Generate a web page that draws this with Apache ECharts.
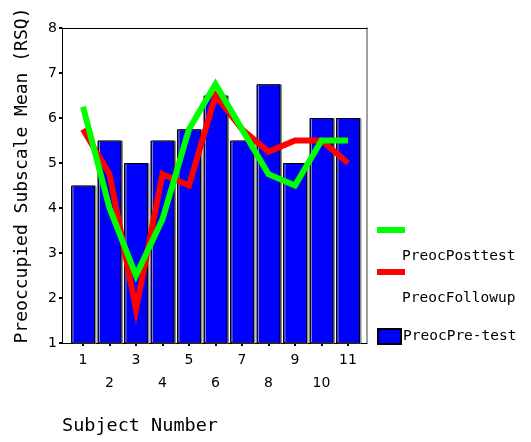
<!DOCTYPE html>
<html>
<head>
<meta charset="utf-8">
<script src="https://cdn.jsdelivr.net/npm/echarts@6/dist/echarts.min.js"></script>
<style>html,body{margin:0;padding:0;background:#fff;}#c{width:531px;height:442px;}</style>
</head>
<body>
<div id="c"></div>
<script>
const categories = ['1','2','3','4','5','6','7','8','9','10','11'];
const preTest = [4.5, 5.5, 5.0, 5.5, 5.75, 6.5, 5.5, 6.75, 5.0, 6.0, 6.0];
const followup = [5.75, 4.75, 1.75, 4.75, 4.5, 6.5, 5.75, 5.25, 5.5, 5.5, 5.0];
const posttest = [6.25, 4.0, 2.5, 3.75, 5.75, 6.75, 5.75, 4.75, 4.5, 5.5, 5.5];
const yMin = 1, yMax = 8, yStep = 1;
const seriesNames = ['PreocPre-test', 'PreocFollowup', 'PreocPosttest'];
const xTitle = 'Subject Number';
const yTitle = 'Preoccupied Subscale Mean (RSQ)';

const MONO = '"DejaVu Sans Mono", monospace';
const SANS = '"DejaVu Sans", sans-serif';

const chart = echarts.init(document.getElementById('c'), null, {renderer: 'canvas'});
chart.setOption({
  backgroundColor: '#fff',
  animation: false,
  title: {
    text: xTitle, left: 62, top: 417, padding: 0,
    textStyle: {fontFamily: MONO, fontSize: 18.5, fontWeight: 'normal', color: '#000'}
  },
  legend: [
    {
      data: [seriesNames[2]], left: 377, top: 191, padding: 0,
      icon: 'rect', itemWidth: 28, itemHeight: 6, itemGap: 0,
      formatter: '\n\n{name}',
      textStyle: {fontFamily: MONO, fontSize: 14.5, color: '#000', lineHeight: 26, padding: [0, 0, 0, -8]}
    },
    {
      data: [seriesNames[1]], left: 377, top: 233, padding: 0,
      icon: 'rect', itemWidth: 28, itemHeight: 6, itemGap: 0,
      formatter: '\n\n{name}',
      textStyle: {fontFamily: MONO, fontSize: 14.5, color: '#000', lineHeight: 26, padding: [0, 0, 0, -8]}
    },
    {
      data: [seriesNames[0]], left: 377, top: 328, padding: 0,
      icon: 'rect', itemWidth: 23, itemHeight: 15, itemGap: 0,
      textStyle: {fontFamily: MONO, fontSize: 14.5, color: '#000', padding: [0, 0, 0, -3]}
    }
  ],
  grid: [
    {left: 69.75, right: 169.75, top: 28, bottom: 99, show: false},
    {left: 62, right: 164, top: 28, bottom: 99, show: false}
  ],
  xAxis: [
    {
      type: 'category', gridIndex: 0, data: categories, boundaryGap: true,
      axisLine: {show: false},
      axisTick: {show: true, alignWithLabel: true, length: 3, lineStyle: {color: '#000', width: 2}},
      axisLabel: {
        interval: 0, margin: 6, fontFamily: SANS, fontSize: 14, color: '#000', lineHeight: 23,
        formatter: function (v, i) { return (i % 2 === 0) ? v + '\n ' : ' \n' + v; }
      },
      splitLine: {show: false}
    },
    {
      type: 'value', gridIndex: 1, min: 0, max: 1, position: 'bottom',
      axisLine: {show: true, onZero: false, lineStyle: {color: '#000', width: 1}},
      axisTick: {show: false}, axisLabel: {show: false}, splitLine: {show: false}
    },
    {
      type: 'value', gridIndex: 1, min: 0, max: 1, position: 'top',
      axisLine: {show: true, onZero: false, lineStyle: {color: '#000', width: 1}},
      axisTick: {show: false}, axisLabel: {show: false}, splitLine: {show: false}
    }
  ],
  yAxis: [
    {
      type: 'value', gridIndex: 0, min: yMin, max: yMax, interval: yStep, show: false
    },
    {
      type: 'value', gridIndex: 1, min: yMin, max: yMax, interval: yStep, position: 'left',
      name: yTitle, nameLocation: 'middle', nameGap: 31, nameRotate: 90,
      nameTextStyle: {fontFamily: MONO, fontSize: 18, color: '#000', padding: [0, 0, 0, 20]},
      axisLine: {show: true, onZero: false, lineStyle: {color: '#000', width: 1}},
      axisTick: {show: true, length: 3, lineStyle: {color: '#000', width: 2}},
      axisLabel: {margin: 5, fontFamily: SANS, fontSize: 14, color: '#000'},
      splitLine: {show: false}
    },
    {
      type: 'value', gridIndex: 1, min: yMin, max: yMax, interval: yStep, position: 'right',
      axisLine: {show: true, onZero: false, lineStyle: {color: '#808080', width: 1.5}},
      axisTick: {show: false}, axisLabel: {show: false}, splitLine: {show: false}
    }
  ],
  series: [
    {
      name: seriesNames[0], type: 'bar', xAxisIndex: 0, yAxisIndex: 0,
      data: preTest, barWidth: 24,
      itemStyle: {color: '#0000ff', borderColor: '#000', borderWidth: 1,
        shadowColor: '#8a8a8a', shadowOffsetX: 1.5, shadowBlur: 0}
    },
    {
      name: seriesNames[1], type: 'line', xAxisIndex: 0, yAxisIndex: 0,
      data: followup, showSymbol: false, symbol: 'none',
      lineStyle: {color: '#ff0000', width: 6, join: 'miter', cap: 'butt'},
      itemStyle: {color: '#ff0000'}
    },
    {
      name: seriesNames[2], type: 'line', xAxisIndex: 0, yAxisIndex: 0,
      data: posttest, showSymbol: false, symbol: 'none',
      lineStyle: {color: '#00ff00', width: 6, join: 'miter', cap: 'butt'},
      itemStyle: {color: '#00ff00'}
    }
  ]
});
</script>
</body>
</html>
